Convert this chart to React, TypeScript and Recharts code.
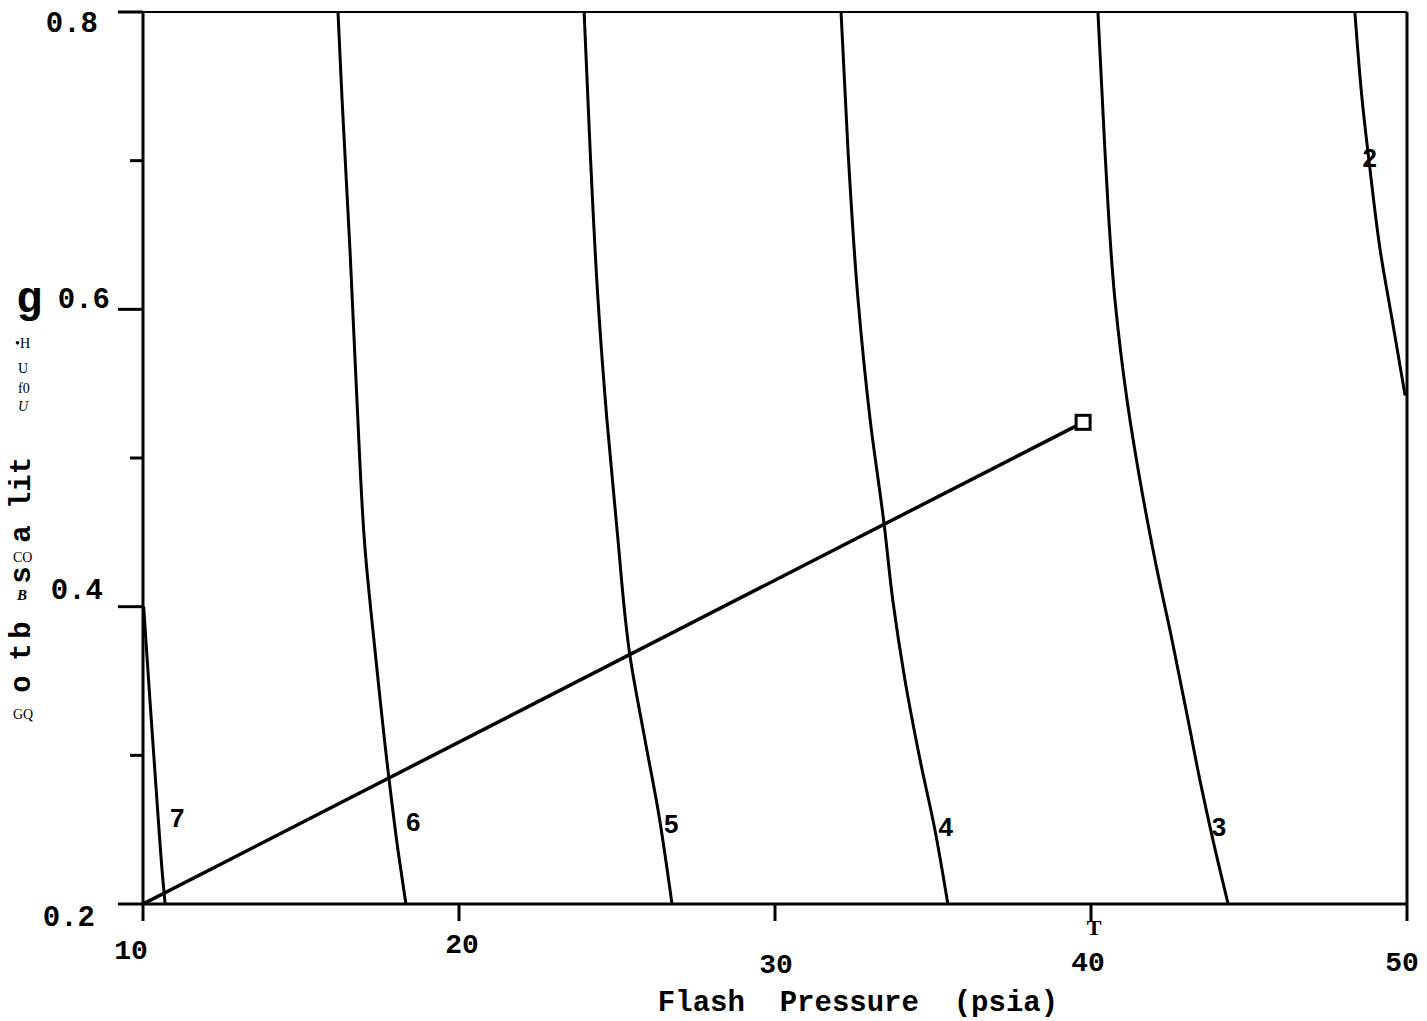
import React from "react";
import { ComposedChart, Scatter, XAxis, YAxis, ReferenceLine } from "recharts";

// x: flash pressure (psia), y: bottoms quality
const xTicks = [10, 20, 30, 40, 50];
const yTicks = [0.2, 0.3, 0.4, 0.5, 0.6, 0.7, 0.8];
const yMajorLabels: Record<string, string> = { "0.2": "0.2", "0.4": "0.4", "0.6": "0.6", "0.8": "0.8" };

const curve2 = [
  { x: 48.35, y: 0.8 },
  { x: 48.58, y: 0.741 },
  { x: 48.83, y: 0.694 },
  { x: 49.15, y: 0.64 },
  { x: 49.53, y: 0.593 },
  { x: 49.94, y: 0.542 },
];
const curve3 = [
  { x: 40.22, y: 0.8 },
  { x: 40.44, y: 0.707 },
  { x: 40.76, y: 0.606 },
  { x: 41.14, y: 0.539 },
  { x: 41.55, y: 0.485 },
  { x: 42.03, y: 0.431 },
  { x: 42.56, y: 0.378 },
  { x: 43.07, y: 0.324 },
  { x: 43.45, y: 0.283 },
  { x: 43.86, y: 0.243 },
  { x: 44.34, y: 0.2 },
];
const curve4 = [
  { x: 32.09, y: 0.8 },
  { x: 32.31, y: 0.707 },
  { x: 32.63, y: 0.606 },
  { x: 33.01, y: 0.526 },
  { x: 33.45, y: 0.456 },
  { x: 33.73, y: 0.404 },
  { x: 34.11, y: 0.351 },
  { x: 34.59, y: 0.297 },
  { x: 35.06, y: 0.25 },
  { x: 35.47, y: 0.2 },
];
const curve5 = [
  { x: 23.96, y: 0.8 },
  { x: 24.15, y: 0.707 },
  { x: 24.4, y: 0.606 },
  { x: 24.68, y: 0.526 },
  { x: 25.0, y: 0.452 },
  { x: 25.41, y: 0.367 },
  { x: 25.89, y: 0.31 },
  { x: 26.3, y: 0.263 },
  { x: 26.74, y: 0.2 },
];
const curve6 = [
  { x: 16.17, y: 0.8 },
  { x: 16.3, y: 0.741 },
  { x: 16.55, y: 0.64 },
  { x: 16.77, y: 0.539 },
  { x: 17.03, y: 0.438 },
  { x: 17.34, y: 0.371 },
  { x: 17.78, y: 0.285 },
  { x: 18.07, y: 0.236 },
  { x: 18.32, y: 0.2 },
];
const curve7 = [
  { x: 10.02, y: 0.4 },
  { x: 10.22, y: 0.337 },
  { x: 10.44, y: 0.27 },
  { x: 10.63, y: 0.216 },
  { x: 10.7, y: 0.2 },
];
const operatingLine = [
  { x: 10, y: 0.2 },
  { x: 39.75, y: 0.524 },
];
const endPoint = [{ x: 39.75, y: 0.524 }];
const curveLabels = [
  { x: 11.08, y: 0.258, label: "7" },
  { x: 18.55, y: 0.255, label: "6" },
  { x: 26.72, y: 0.254, label: "5" },
  { x: 35.4, y: 0.252, label: "4" },
  { x: 44.05, y: 0.252, label: "3" },
  { x: 48.82, y: 0.702, label: "2" },
];

const MONO = "'Liberation Mono', 'DejaVu Sans Mono', monospace";
const SERIF = "'Liberation Serif', 'DejaVu Serif', serif";
const SANS = "'Liberation Sans', Arial, sans-serif";

// label placement tweaks relative to each tick
const xLabelShift: Record<string, { dx: number; dy: number }> = {
  "10": { dx: -12, dy: 47 },
  "20": { dx: 3, dy: 41 },
  "30": { dx: 1, dy: 61 },
  "40": { dx: -3, dy: 59 },
  "50": { dx: -5, dy: 59 },
};
const yLabelShift: Record<string, { dx: number; dy: number }> = {
  "0.8": { dx: -45, dy: 12 },
  "0.6": { dx: -33, dy: -9 },
  "0.4": { dx: -40, dy: -15 },
  "0.2": { dx: -48, dy: 14 },
};

const XTick = (props: any) => {
  const { x, y, payload } = props;
  const s = xLabelShift[String(payload.value)] || { dx: 0, dy: 45 };
  return (
    <g>
      <line x1={x} y1={y} x2={x} y2={y + 17} stroke="#000" strokeWidth={3} />
      <text
        x={x + s.dx}
        y={y + s.dy}
        textAnchor="middle"
        dominantBaseline="central"
        fontFamily={MONO}
        fontWeight="bold"
        fontSize={28}
        fill="#000"
      >
        {payload.value}
      </text>
    </g>
  );
};

const YTick = (props: any) => {
  const { x, y, payload } = props;
  const key = payload.value.toFixed(1);
  const label = yMajorLabels[key];
  const len = label ? 25 : 13;
  const s = yLabelShift[key];
  return (
    <g>
      <line x1={x - len} y1={y} x2={x} y2={y} stroke="#000" strokeWidth={3} />
      {label && s && (
        <text
          x={x + s.dx}
          y={y + s.dy}
          textAnchor="end"
          dominantBaseline="central"
          fontFamily={MONO}
          fontWeight="bold"
          fontSize={29}
          fill="#000"
        >
          {label}
        </text>
      )}
    </g>
  );
};

const NoDot = () => <g />;

const Square = (p: any) => (
  <rect x={p.cx - 7} y={p.cy - 7} width={14} height={14} fill="#fff" stroke="#000" strokeWidth={3} />
);

const CurveLabel = (p: any) => (
  <text
    x={p.cx}
    y={p.cy}
    textAnchor="middle"
    dominantBaseline="central"
    fontFamily={SANS}
    fontWeight="bold"
    fontSize={26}
    fill="#000"
  >
    {p.payload.label}
  </text>
);

const lineStyle = { stroke: "#000", strokeWidth: 3 };

export default function App() {
  return (
    <div style={{ position: "absolute", left: 0, top: 0, width: 1427, height: 1021, background: "#fff" }}>
      <ComposedChart
        width={1427}
        height={1021}
        margin={{ top: 12, right: 20, bottom: 87, left: 83 }}
      >
        <XAxis
          type="number"
          dataKey="x"
          domain={[10, 50]}
          ticks={xTicks}
          allowDataOverflow
          height={30}
          tickSize={0}
          tickMargin={0}
          tickLine={false}
          tick={<XTick />}
          axisLine={{ stroke: "#000", strokeWidth: 3 }}
        />
        <YAxis
          type="number"
          dataKey="y"
          domain={[0.2, 0.8]}
          ticks={yTicks}
          allowDataOverflow
          width={60}
          tickSize={0}
          tickMargin={0}
          tickLine={false}
          tick={<YTick />}
          axisLine={{ stroke: "#000", strokeWidth: 3 }}
        />
        <ReferenceLine y={0.8} stroke="#000" strokeWidth={2} />
        <ReferenceLine x={50} stroke="#000" strokeWidth={3} />
        <Scatter data={curve2} line={lineStyle} lineJointType="monotoneY" shape={NoDot} isAnimationActive={false} />
        <Scatter data={curve3} line={lineStyle} lineJointType="monotoneY" shape={NoDot} isAnimationActive={false} />
        <Scatter data={curve4} line={lineStyle} lineJointType="monotoneY" shape={NoDot} isAnimationActive={false} />
        <Scatter data={curve5} line={lineStyle} lineJointType="monotoneY" shape={NoDot} isAnimationActive={false} />
        <Scatter data={curve6} line={lineStyle} lineJointType="monotoneY" shape={NoDot} isAnimationActive={false} />
        <Scatter data={curve7} line={lineStyle} lineJointType="monotoneY" shape={NoDot} isAnimationActive={false} />
        <Scatter data={operatingLine} line={{ stroke: "#000", strokeWidth: 3.5 }} shape={NoDot} isAnimationActive={false} />
        <Scatter data={endPoint} shape={Square} isAnimationActive={false} />
        <Scatter data={curveLabels} shape={CurveLabel} isAnimationActive={false} />
      </ComposedChart>

      {/* scanned axis titles, kept as they read on the page */}
      <svg
        width={1427}
        height={1021}
        style={{ position: "absolute", left: 0, top: 0, pointerEvents: "none" }}
      >
        <text x={16} y={312} fontFamily={MONO} fontWeight="bold" fontSize={44} fill="#000">g</text>
        <text x={15} y={348} fontFamily={SERIF} fontSize={14} fill="#000">•H</text>
        <text x={18} y={373} fontFamily={SERIF} fontSize={14} fill="#000">U</text>
        <text x={18} y={393} fontFamily={SERIF} fontSize={14} fill="#000">f0</text>
        <text x={18} y={411} fontFamily={SERIF} fontStyle="italic" fontSize={14} fill="#000">U</text>
        {[
          { t: "lit", y: 483 },
          { t: "a", y: 534 },
          { t: "s", y: 575 },
          { t: "b", y: 630 },
          { t: "t", y: 652 },
          { t: "o", y: 684 },
        ].map((d) => (
          <text
            key={d.t + d.y}
            x={22}
            y={d.y}
            transform={`rotate(-90 22 ${d.y})`}
            textAnchor="middle"
            dominantBaseline="central"
            fontFamily={MONO}
            fontWeight="bold"
            fontSize={29}
            fill="#000"
          >
            {d.t}
          </text>
        ))}
        <text x={13} y={562} fontFamily={SERIF} fontSize={14} fill="#000">CO</text>
        <text x={17} y={600} fontFamily={SERIF} fontStyle="italic" fontWeight="bold" fontSize={15} fill="#000">B</text>
        <text x={13} y={719} fontFamily={SERIF} fontSize={14} fill="#000">GQ</text>
        <text x={1094} y={927} textAnchor="middle" dominantBaseline="central" fontFamily={SERIF} fontWeight="bold" fontSize={22} fill="#000">T</text>
        <text
          x={858}
          y={1003}
          textAnchor="middle"
          dominantBaseline="central"
          fontFamily={MONO}
          fontWeight="bold"
          fontSize={29}
          fill="#000"
          style={{ whiteSpace: "pre" }}
        >
          {"Flash  Pressure  (psia)"}
        </text>
      </svg>
    </div>
  );
}
